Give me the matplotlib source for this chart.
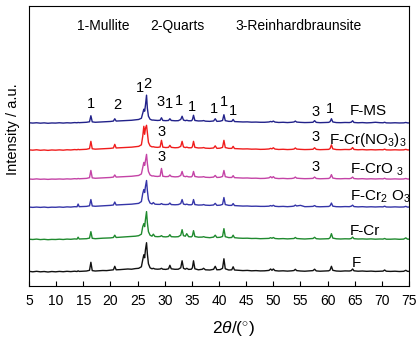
import matplotlib
matplotlib.use("Agg")
from matplotlib import pyplot as plt

plt.rcParams['font.family'] = ['Liberation Sans', 'DejaVu Sans']
plt.rcParams['mathtext.fontset'] = 'custom'
plt.rcParams['mathtext.rm'] = 'Liberation Sans'
plt.rcParams['mathtext.it'] = 'Liberation Sans:italic'

# 2theta grid (degrees)
two_theta = [
    5.0, 5.7, 6.4, 7.1, 7.8, 8.5, 9.2, 9.9, 10.6, 11.3,
    12.0, 12.7, 13.4, 13.85, 14.05, 14.25, 14.9, 15.6, 16.15, 16.4,
    16.65, 17.2, 17.9, 18.6, 19.3, 20.0, 20.55, 20.8, 21.05, 21.8,
    22.5, 23.2, 23.9, 24.6, 25.2, 25.7, 25.95, 26.15, 26.3, 26.45,
    26.65, 26.8, 27.0, 27.3, 27.65, 27.9, 28.2, 28.7, 29.15, 29.4,
    29.65, 30.2, 30.7, 30.95, 31.2, 31.9, 32.5, 32.95, 33.2, 33.45,
    33.8, 34.05, 34.4, 34.9, 35.1, 35.3, 35.55, 36.2, 36.9, 37.15,
    37.5, 38.3, 39.0, 39.3, 39.6, 40.2, 40.65, 40.9, 41.15, 41.8,
    42.35, 42.6, 42.85, 43.6, 44.4, 45.2, 46.0, 46.8, 47.6, 48.4,
    49.2, 49.5, 49.75, 50.0, 50.3, 51.0, 51.8, 52.6, 53.4, 53.8,
    54.05, 54.3, 55.0, 55.8, 56.6, 57.3, 57.6, 57.9, 58.6, 59.4,
    60.2, 60.45, 60.7, 60.95, 61.6, 62.4, 63.2, 64.0, 64.35, 64.6,
    64.85, 65.6, 66.4, 67.2, 68.0, 68.8, 69.6, 70.2, 70.5, 70.8,
    71.6, 72.4, 73.2, 74.0, 74.4, 74.7, 75.0,
]

# intensities (a.u., without vertical offset)
f_plain = [
    0.5, 0.0, 0.5, 0.0, 0.3, -0.2, 0.3, 0.0, 0.4, 0.1,
    0.5, 0.2, 0.6, 0.3, 1.0, 0.4, 0.6, 0.8, 1.5, 9.5,
    1.2, 0.8, 1.0, 1.3, 1.2, 1.6, 2.0, 5.5, 2.0, 2.2,
    2.5, 2.8, 2.6, 3.2, 3.5, 5.0, 12.0, 17.0, 14.0, 22.0,
    29.0, 18.0, 8.0, 4.0, 3.0, 3.5, 2.8, 2.6, 2.8, 3.5,
    2.6, 2.4, 3.0, 6.5, 3.0, 2.5, 2.6, 4.0, 11.0, 3.5,
    2.6, 3.5, 2.4, 2.6, 4.0, 11.0, 3.0, 2.0, 2.5, 3.5,
    2.0, 1.8, 2.5, 5.5, 2.0, 2.2, 3.5, 13.0, 3.0, 1.8,
    2.0, 5.0, 1.8, 1.5, 1.2, 1.4, 1.0, 1.2, 0.9, 1.0,
    1.4, 2.8, 1.5, 2.8, 1.2, 0.8, 1.0, 0.7, 1.0, 1.3,
    2.5, 1.2, 0.8, 0.6, 0.9, 1.2, 2.6, 0.9, 0.6, 0.8,
    1.0, 1.8, 5.5, 1.5, 0.8, 0.6, 0.9, 0.8, 1.2, 2.8,
    1.0, 0.6, 0.8, 0.5, 0.7, 0.4, 0.6, 0.7, 1.8, 0.6,
    0.4, 0.6, 0.3, 0.5, 1.5, 0.5, 0.4,
]
f_cr = [
    0.5, 0.2, 0.6, 0.1, 0.4, 0.0, 0.3, 0.2, 0.5, 0.2,
    0.6, 0.4, 0.8, 0.6, 2.5, 0.7, 0.8, 1.0, 1.6, 8.0,
    1.4, 1.0, 1.3, 1.5, 1.6, 1.8, 2.2, 4.5, 2.2, 2.5,
    2.8, 3.0, 3.2, 3.5, 4.0, 5.5, 13.0, 16.0, 13.0, 20.0,
    28.0, 17.0, 8.0, 4.5, 3.5, 5.5, 3.2, 3.0, 3.2, 4.0,
    3.0, 2.8, 3.2, 5.0, 3.0, 2.8, 3.0, 4.5, 10.0, 4.0,
    3.5, 6.0, 3.0, 2.8, 3.8, 9.0, 3.2, 2.5, 2.6, 3.0,
    2.4, 2.0, 2.6, 4.5, 2.2, 2.4, 3.2, 11.0, 3.0, 2.0,
    2.2, 4.5, 2.0, 1.6, 1.4, 1.5, 1.2, 1.3, 1.0, 1.1,
    1.3, 2.0, 1.4, 2.2, 1.2, 0.9, 1.1, 0.8, 1.0, 1.2,
    2.2, 1.2, 0.9, 0.7, 1.0, 1.2, 2.4, 1.0, 0.7, 0.9,
    1.0, 2.0, 6.0, 1.6, 0.9, 0.7, 0.9, 0.8, 1.2, 2.6,
    1.0, 0.7, 0.8, 0.6, 0.8, 0.5, 0.7, 0.6, 1.2, 0.5,
    0.5, 0.7, 0.4, 0.6, 1.8, 0.6, 0.5,
]
f_cr2o3 = [
    0.5, 0.2, 0.5, 0.2, 0.5, 0.1, 0.4, 0.3, 0.6, 0.3,
    0.7, 0.5, 0.9, 0.8, 3.5, 0.9, 1.0, 1.2, 1.8, 8.0,
    1.6, 1.3, 1.5, 1.8, 2.0, 2.2, 2.6, 5.5, 2.6, 2.8,
    3.0, 3.2, 3.4, 3.8, 4.2, 6.0, 14.0, 18.0, 15.0, 21.0,
    27.0, 17.0, 8.0, 4.5, 3.6, 5.0, 3.4, 3.2, 3.2, 4.0,
    3.2, 3.0, 3.2, 4.5, 3.0, 2.8, 3.0, 4.0, 8.0, 3.5,
    3.0, 3.4, 2.8, 2.8, 3.5, 8.0, 3.0, 2.5, 2.6, 3.0,
    2.4, 2.2, 2.6, 4.2, 2.2, 2.4, 3.2, 10.0, 3.0, 2.2,
    2.2, 4.0, 2.0, 1.8, 1.5, 1.6, 1.3, 1.4, 1.2, 1.2,
    1.4, 2.0, 1.5, 2.3, 1.3, 1.0, 1.2, 0.9, 1.2, 1.5,
    2.5, 1.6, 2.2, 0.9, 1.0, 1.2, 2.0, 1.0, 0.8, 1.0,
    1.1, 1.8, 4.5, 1.4, 0.9, 0.8, 1.0, 0.9, 1.4, 2.4,
    1.0, 0.7, 0.9, 0.6, 0.8, 0.6, 0.8, 0.7, 1.4, 0.6,
    0.5, 0.7, 0.5, 0.6, 1.2, 0.5, 0.5,
]
f_cro3 = [
    0.5, 0.2, 0.6, 0.2, 0.4, 0.1, 0.4, 0.3, 0.5, 0.3,
    0.6, 0.4, 0.8, 0.6, 1.0, 0.7, 0.9, 1.1, 1.8, 9.0,
    1.6, 1.2, 1.4, 1.6, 1.8, 2.0, 2.4, 4.5, 2.4, 2.6,
    2.8, 3.0, 3.2, 3.6, 4.0, 5.5, 12.0, 17.0, 14.0, 19.0,
    25.0, 16.0, 8.0, 4.5, 3.5, 3.6, 3.2, 3.0, 3.4, 11.0,
    3.2, 2.8, 3.0, 4.5, 3.0, 2.6, 2.8, 4.0, 8.0, 3.4,
    2.8, 3.2, 2.6, 2.6, 3.6, 8.0, 3.0, 2.4, 2.5, 2.8,
    2.2, 2.0, 2.4, 4.0, 2.0, 2.2, 3.0, 9.0, 2.8, 2.0,
    2.0, 3.8, 1.8, 1.6, 1.4, 1.5, 1.2, 1.3, 1.0, 1.1,
    1.6, 2.8, 1.6, 2.8, 1.3, 0.9, 1.1, 0.8, 1.0, 1.4,
    2.4, 1.3, 1.0, 0.8, 0.9, 1.1, 2.4, 1.0, 0.7, 0.9,
    1.0, 1.8, 4.8, 1.4, 0.8, 0.7, 0.9, 0.8, 1.2, 2.4,
    0.9, 0.6, 0.8, 0.5, 0.7, 0.5, 0.7, 0.6, 1.2, 0.5,
    0.4, 0.6, 0.4, 0.5, 1.0, 0.5, 0.4,
]
f_crno3 = [
    0.5, 0.2, 0.6, 0.1, 0.4, 0.0, 0.4, 0.2, 0.5, 0.2,
    0.6, 0.4, 0.8, 0.6, 1.0, 0.7, 0.9, 1.1, 1.8, 9.0,
    1.6, 1.2, 1.4, 1.6, 1.8, 2.0, 2.4, 6.0, 2.4, 2.6,
    2.8, 3.0, 3.2, 3.6, 4.0, 5.5, 14.0, 24.0, 16.0, 22.0,
    25.0, 18.0, 8.0, 4.5, 3.5, 3.6, 3.2, 3.0, 3.4, 10.0,
    3.2, 2.8, 3.0, 5.0, 3.0, 2.6, 2.8, 4.0, 9.0, 3.4,
    2.8, 3.2, 2.6, 2.6, 3.6, 9.0, 3.0, 2.4, 2.5, 2.8,
    2.2, 2.0, 2.4, 4.5, 2.0, 2.2, 3.0, 10.0, 2.8, 2.0,
    2.0, 4.0, 1.8, 1.6, 1.4, 1.5, 1.2, 1.3, 1.0, 1.1,
    1.4, 2.0, 1.5, 2.6, 1.3, 0.9, 1.1, 0.8, 1.0, 1.3,
    2.4, 1.3, 1.0, 0.8, 0.9, 1.1, 2.6, 1.0, 0.7, 0.9,
    1.0, 1.8, 5.5, 1.5, 0.8, 0.7, 0.9, 0.8, 1.2, 2.8,
    0.9, 0.6, 0.8, 0.5, 0.7, 0.5, 0.7, 0.6, 1.2, 0.5,
    0.4, 0.6, 0.4, 0.5, 1.0, 0.5, 0.4,
]
f_ms = [
    0.5, 0.2, 0.5, 0.1, 0.4, 0.0, 0.3, 0.2, 0.5, 0.2,
    0.5, 0.3, 0.7, 0.5, 0.8, 0.6, 0.8, 1.0, 1.5, 7.5,
    1.4, 1.0, 1.2, 1.4, 1.6, 1.8, 2.2, 4.5, 2.2, 2.4,
    2.6, 2.8, 3.0, 3.4, 3.8, 5.0, 10.0, 14.0, 12.0, 18.0,
    28.0, 15.0, 7.0, 4.0, 3.2, 3.2, 3.0, 2.8, 3.0, 5.5,
    2.8, 2.6, 2.8, 4.5, 2.8, 2.5, 2.6, 3.8, 7.0, 3.2,
    2.6, 3.0, 2.5, 2.5, 3.5, 8.0, 2.8, 2.3, 2.4, 2.7,
    2.1, 1.9, 2.3, 4.5, 1.9, 2.1, 2.8, 8.5, 2.6, 1.9,
    1.9, 3.8, 1.7, 1.5, 1.3, 1.4, 1.1, 1.2, 1.0, 1.0,
    1.3, 1.8, 1.4, 2.2, 1.2, 0.8, 1.0, 0.7, 1.0, 1.3,
    2.2, 1.2, 0.9, 0.7, 0.8, 1.0, 2.6, 0.9, 0.6, 0.8,
    0.9, 1.6, 4.5, 1.3, 0.7, 0.6, 0.8, 0.7, 1.1, 2.5,
    0.8, 0.5, 0.7, 0.4, 0.6, 1.0, 0.6, 0.5, 1.0, 0.4,
    0.3, 0.5, 0.3, 0.4, 0.8, 0.4, 0.3,
]

series = [f_plain, f_cr, f_cr2o3, f_cro3, f_crno3, f_ms]
names = ['F', 'F-Cr', r'F-Cr$_2$ O$_{3}$', r'F-CrO $_3$',
         r'F-Cr(NO$_3$)$_3$', 'F-MS']
offsets = [14, 46, 78, 106, 135, 162]
colors = ['#111111', '#1f8a2e', '#3535a8', '#c443a6', '#f01c1c', '#22228a']
name_pos = [(64.5, 23), (64.1, 55), (64.1, 89), (64.1, 116),
            (60.3, 145), (64.1, 174)]

# phase markers: (2theta, height, label)
marks = [
    (16.5, 181, '1'), (21.3, 180, '2'), (25.4, 197, '1'), (26.8, 201, '2'),
    (29.3, 183, '3'), (30.8, 181, '1'), (32.6, 184, '1'), (35.1, 178, '1'),
    (39.1, 176, '1'), (40.9, 183, '1'), (42.6, 174, '1'),
    (57.7, 173, '3'), (60.4, 176, '1'),
    (29.4, 153, '3'), (57.7, 148, '3'),
    (29.4, 128, '3'), (57.7, 118, '3'),
]

fig = plt.figure(figsize=(4.2, 3.44), dpi=100)
ax = fig.add_axes([0.069, 0.169, 0.905, 0.814])

for ys, off, c in zip(series, offsets, colors):
    ax.plot(two_theta, [v + off for v in ys], color=c, lw=1.0)

for (x, y), name in zip(name_pos, names):
    ax.text(x, y, name, fontsize=11, ha='left', va='center')

for x, y, s in marks:
    ax.text(x, y, s, fontsize=10.5, ha='center', va='center')

ax.text(13.8, 259, '1-Mullite', fontsize=10, va='center')
ax.text(27.3, 259, '2-Quarts', fontsize=10, va='center')
ax.text(43.1, 259, '3-Reinhardbraunsite', fontsize=10, va='center')

ax.set_xlim(5, 75)
ax.set_ylim(0, 279)
ax.set_xticks(range(5, 76, 5))
ax.set_yticks([])
ax.tick_params(axis='x', direction='in', length=3.5, labelsize=10, pad=6)
ax.set_xlabel(r'2$\theta$/($^{\circ}$)', fontsize=12.5)
ax.xaxis.set_label_coords(0.537, -0.118)
ax.set_ylabel('Intensity / a.u.', fontsize=10.5)
ax.yaxis.set_label_coords(-0.024, 0.56)

fig.savefig('out.png', dpi=100)
